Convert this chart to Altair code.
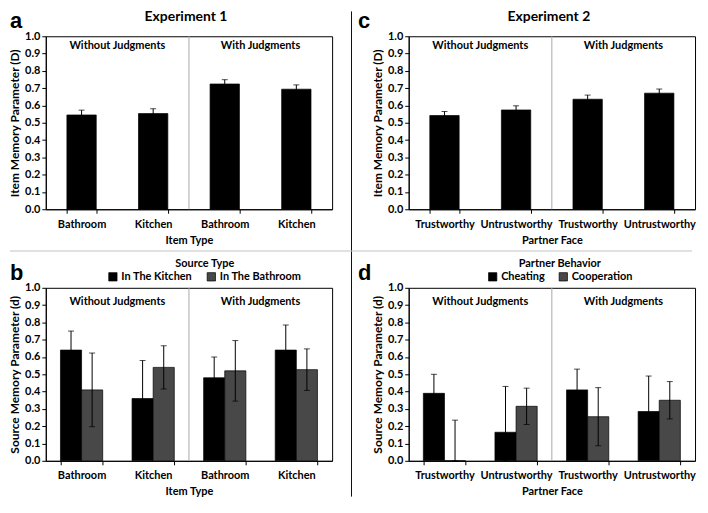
import altair as alt
import pandas as pd

FONT = "Lato"

# ---------------- data ----------------
exp1_items = ["Bathroom", "Kitchen", "Bathroom", "Kitchen"]
exp2_faces = ["Trustworthy", "Untrustworthy", "Trustworthy", "Untrustworthy"]
conditions = ["Without Judgments", "With Judgments"]

# panel a: item memory (D), Experiment 1
a_D = [0.545, 0.553, 0.724, 0.694]
a_err = [0.028, 0.028, 0.025, 0.025]
# panel c: item memory (D), Experiment 2
c_D = [0.542, 0.574, 0.636, 0.671]
c_err = [0.023, 0.024, 0.024, 0.024]

# panel b: source memory (d), Experiment 1
b_series = ["In The Kitchen", "In The Bathroom"]
b_kitchen_d = [0.64, 0.36, 0.48, 0.64]
b_kitchen_err = [0.11, 0.22, 0.12, 0.145]
b_bathroom_d = [0.41, 0.54, 0.52, 0.527]
b_bathroom_err = [0.213, 0.125, 0.175, 0.12]

# panel d: source memory (d), Experiment 2
d_series = ["Cheating", "Cooperation"]
d_cheat_d = [0.39, 0.165, 0.41, 0.285]
d_cheat_err = [0.11, 0.265, 0.12, 0.205]
d_coop_d = [0.0, 0.315, 0.255, 0.35]
d_coop_err = [0.235, 0.105, 0.168, 0.108]

y_ticks = [0.0, 0.1, 0.2, 0.3, 0.4, 0.5, 0.6, 0.7, 0.8, 0.9, 1.0]
bar_colors = ["#000000", "#484848"]

# ---------------- layout constants ----------------
W, H = 288, 174
ROW_GAP, COL_GAP = 79, 77
ONE = pd.DataFrame({"z": [0]})


def keys(cats):
    return [f"{i}|{c}" for i, c in enumerate(cats)]


def simple_df(cats, vals, errs):
    return pd.DataFrame({
        "key": keys(cats),
        "v": vals,
        "lo": [max(0.0, v - e) for v, e in zip(vals, errs)],
        "hi": [v + e for v, e in zip(vals, errs)],
    })


def grouped_df(cats, series, vals_list, errs_list):
    rows = []
    for s, vals, errs in zip(series, vals_list, errs_list):
        for k, v, e in zip(keys(cats), vals, errs):
            rows.append(dict(key=k, s=s, v=v, lo=max(0.0, v - e), hi=v + e))
    return pd.DataFrame(rows)


def x_enc(pad, title):
    return alt.X("key:N", title=title,
                 scale=alt.Scale(paddingInner=pad, paddingOuter=pad / 2),
                 axis=alt.Axis(labelExpr="split(datum.label, '|')[1]", labelAngle=0,
                               tickBand="extent", tickSize=4, labelPadding=5,
                               titlePadding=5, titleFontSize=11))


def y_enc(field, title):
    return alt.Y(f"{field}:Q", title=title,
                 scale=alt.Scale(domain=[0, 1], nice=False),
                 axis=alt.Axis(values=y_ticks, format=".1f", tickSize=4,
                               labelPadding=2, titlePadding=3, titleFontSize=12))


def text(t, x, y, size=11, align="center", baseline="middle", font=FONT):
    return alt.Chart(ONE).mark_text(text=t, font=font, fontSize=size, fontWeight="bold",
                                    align=align, baseline=baseline, color="black").encode(
        x=alt.value(x), y=alt.value(y))


def panel(df, letter, letter_x, title, ytitle, xtitle, label_y, grouped=False,
          series=None, legend_title=None, legend_x=0, legend_y=0, extra=None):
    base = alt.Chart(df)
    if grouped:
        x = x_enc(0.41, xtitle)
        xo = alt.XOffset("s:N", sort=series)
        bars = base.mark_bar(stroke="black", strokeWidth=0.7).encode(
            x=x, xOffset=xo, y=y_enc("v", ytitle),
            color=alt.Color("s:N", sort=series,
                            scale=alt.Scale(domain=series, range=bar_colors),
                            legend=alt.Legend(orient="none", legendX=legend_x, legendY=legend_y,
                                              direction="horizontal", title=legend_title,
                                              titleAnchor="middle", titleAlign="center",
                                              symbolType="square", symbolSize=70,
                                              symbolStrokeColor="black", symbolStrokeWidth=0.7,
                                              columnPadding=12, titlePadding=2,
                                              labelOffset=3)))
        rule = base.mark_rule(color="black", strokeWidth=1).encode(
            x=x, xOffset=xo, y=y_enc("lo", ytitle), y2="hi:Q")
        cap = base.mark_tick(color="black", size=6, thickness=1).encode(
            x=x, xOffset=xo, y=y_enc("hi", ytitle))
        cap_lo = base.mark_tick(color="black", size=6, thickness=1).encode(
            x=x, xOffset=xo, y=y_enc("lo", ytitle))
    else:
        x = x_enc(0.59, xtitle)
        bars = base.mark_bar(color="black", stroke="black", strokeWidth=0.7).encode(
            x=x, y=y_enc("v", ytitle))
        rule = base.mark_rule(color="black", strokeWidth=1).encode(
            x=x, y=y_enc("lo", ytitle), y2="hi:Q")
        cap = base.mark_tick(color="black", size=6, thickness=1).encode(
            x=x, y=y_enc("hi", ytitle))
        cap_lo = base.mark_tick(color="black", size=6, thickness=1).encode(
            x=x, y=y_enc("lo", ytitle))

    sep = alt.Chart(ONE).mark_rule(color="#a8a8a8", strokeWidth=1).encode(
        x=alt.value(W / 2), y=alt.value(0), y2=alt.value(H))

    layers = [bars, rule, cap, cap_lo, sep,
              text(conditions[0], W / 4, label_y),
              text(conditions[1], 3 * W / 4, label_y),
              text(letter, letter_x, -25, size=22, align="left", baseline="top",
                   font="Liberation Sans")]
    if title:
        layers.append(text(title, W / 2 - 3, -19, size=14))
    if extra is not None:
        layers.extend(extra)
    return alt.layer(*layers).properties(width=W, height=H)


# page dividers
vdiv = alt.Chart(ONE).mark_rule(color="#101010", strokeWidth=1).encode(
    x=alt.value(-57.5), y=alt.value(-25), y2=alt.value(2 * H + ROW_GAP + 36))
hdiv = alt.Chart(ONE).mark_rule(color="#c4c4c4", strokeWidth=1).encode(
    x=alt.value(-36), x2=alt.value(650), y=alt.value(-37))

pa = panel(simple_df(exp1_items, a_D, a_err), "a", -36, "Experiment 1",
           "Item Memory Parameter (D)", "Item Type", 10)
pc = panel(simple_df(exp2_faces, c_D, c_err), "c", -51, "Experiment 2",
           "Item Memory Parameter (D)", "Partner Face", 10, extra=[vdiv])
pb = panel(grouped_df(exp1_items, b_series, [b_kitchen_d, b_bathroom_d],
                      [b_kitchen_err, b_bathroom_err]),
           "b", -36, None, "Source Memory Parameter (d)", "Item Type", 14,
           grouped=True, series=b_series, legend_title="Source Type",
           legend_x=62, legend_y=-30, extra=[hdiv])
pd_ = panel(grouped_df(exp2_faces, d_series, [d_cheat_d, d_coop_d],
                       [d_cheat_err, d_coop_err]),
            "d", -51, None, "Source Memory Parameter (d)", "Partner Face", 14,
            grouped=True, series=d_series, legend_title="Partner Behavior",
            legend_x=79, legend_y=-30)

chart = alt.concat(pa, pc, pb, pd_, columns=2,
                   spacing={"row": ROW_GAP, "column": COL_GAP}, bounds="flush").resolve_scale(
    color="independent", xOffset="independent", x="independent", y="independent"
).resolve_legend(color="independent").properties(
    padding={"left": 0, "top": 0, "right": 4, "bottom": 2}
).configure_view(stroke="black", strokeWidth=1).configure_axis(
    labelFont=FONT, labelFontWeight="bold", labelFontSize=11, labelColor="black",
    titleFont=FONT, titleFontWeight="bold", titleColor="black",
    domainColor="black", tickColor="black", grid=False
).configure_legend(
    titleFont=FONT, titleFontSize=11, titleFontWeight="bold", titleColor="black",
    labelFont=FONT, labelFontSize=11, labelFontWeight="bold", labelColor="black"
)

chart.save("out.html", embed_options={"renderer": "svg", "actions": False})
